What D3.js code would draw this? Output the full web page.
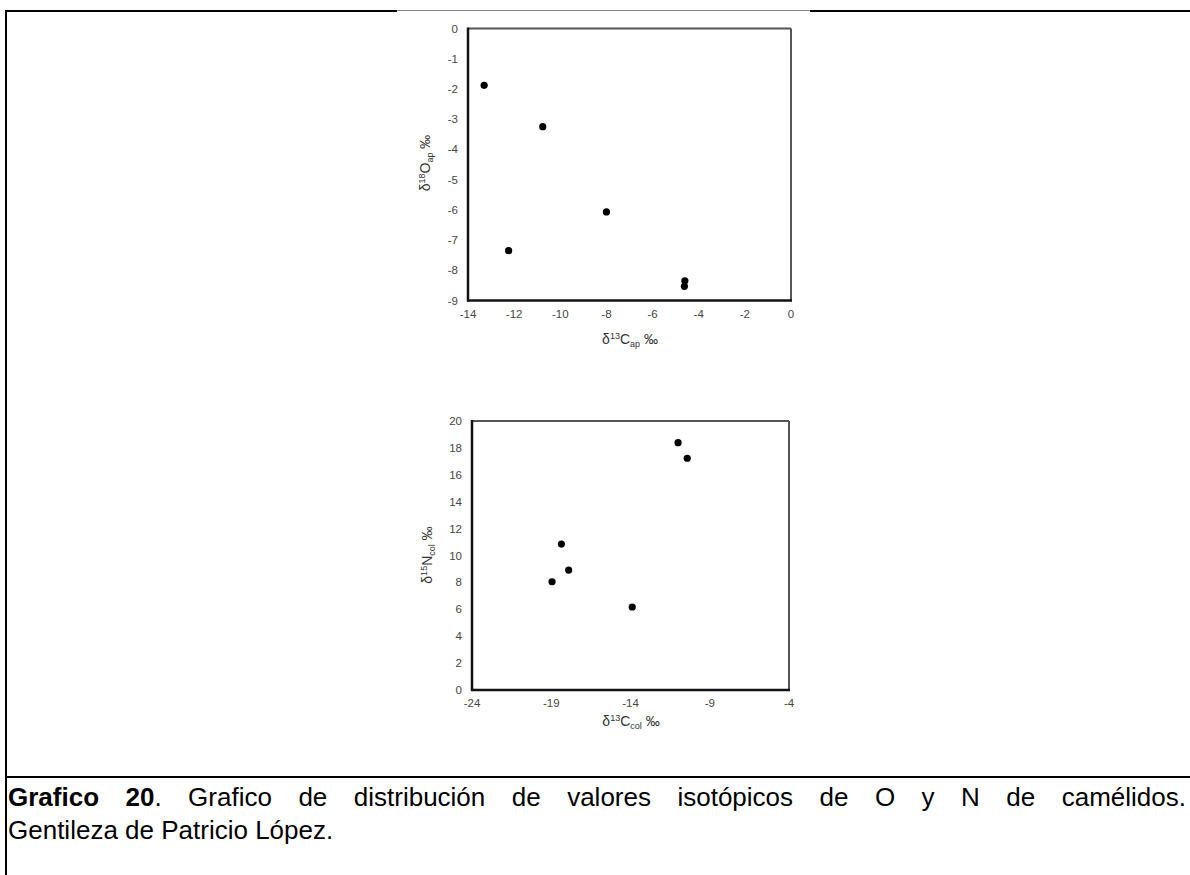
<!DOCTYPE html>
<html>
<head>
<meta charset="utf-8">
<script src="https://cdn.jsdelivr.net/npm/d3@7"></script>
<style>
  body { margin: 0; background: #fff; }
  #wrap { position: relative; width: 1190px; height: 875px; overflow: hidden; }
  .cap {
    position: absolute; left: 8px; width: 1178px;
    font-family: "Liberation Sans", Arial, sans-serif; font-size: 26px;
    line-height: 34px; color: #000; white-space: nowrap;
  }
  .cap.first { text-align: justify; text-align-last: justify; white-space: normal; }
</style>
</head>
<body>
<div id="wrap"></div>
<script>
// top chart: δ13C apatite vs δ18O apatite
const apC = [-13.3, -10.76, -8.0, -12.24, -4.6, -4.62];
const apO = [-1.88, -3.25, -6.07, -7.35, -8.35, -8.53];
const apXTicks = [-14, -12, -10, -8, -6, -4, -2, 0];
const apYTicks = [0, -1, -2, -3, -4, -5, -6, -7, -8, -9];

// bottom chart: δ13C collagen vs δ15N collagen
const colC = [-11.0, -10.42, -18.36, -17.9, -18.95, -13.89];
const colN = [18.39, 17.23, 10.85, 8.92, 8.05, 6.17];
const colXTicks = [-24, -19, -14, -9, -4];
const colYTicks = [0, 2, 4, 6, 8, 10, 12, 14, 16, 18, 20];

const W = 1190, H = 875;
const wrap = d3.select("#wrap");
const svg = wrap.append("svg").attr("width", W).attr("height", H)
  .style("position", "absolute").style("left", 0).style("top", 0);

// table borders
svg.append("line").attr("x1", 5).attr("x2", 397).attr("y1", 11).attr("y2", 11)
  .attr("stroke", "#000").attr("stroke-width", 2);
svg.append("line").attr("x1", 397).attr("x2", 810).attr("y1", 10.5).attr("y2", 10.5)
  .attr("stroke", "#888").attr("stroke-width", 1);
svg.append("line").attr("x1", 810).attr("x2", W).attr("y1", 11).attr("y2", 11)
  .attr("stroke", "#000").attr("stroke-width", 2);
svg.append("line").attr("x1", 6).attr("x2", 6).attr("y1", 10).attr("y2", H)
  .attr("stroke", "#000").attr("stroke-width", 2);
svg.append("line").attr("x1", 5).attr("x2", W).attr("y1", 777).attr("y2", 777)
  .attr("stroke", "#000").attr("stroke-width", 2);

const font = "'Liberation Sans', Arial, sans-serif";

function scatter(opt) {
  const x = d3.scaleLinear().domain(opt.xDomain).range([opt.left, opt.right]);
  const y = d3.scaleLinear().domain(opt.yDomain).range([opt.bottom, opt.top]);
  const g = svg.append("g");

  // plot frame: top/right dark gray, left/bottom black
  g.append("line").attr("x1", opt.left).attr("x2", opt.right).attr("y1", opt.top).attr("y2", opt.top)
    .attr("stroke", "#555").attr("stroke-width", 2);
  g.append("line").attr("x1", opt.right).attr("x2", opt.right).attr("y1", opt.top).attr("y2", opt.bottom)
    .attr("stroke", "#555").attr("stroke-width", 2);
  g.append("line").attr("x1", opt.left).attr("x2", opt.left).attr("y1", opt.top - 1).attr("y2", opt.bottom + 1)
    .attr("stroke", "#111").attr("stroke-width", 2.5);
  g.append("line").attr("x1", opt.left - 1).attr("x2", opt.right + 1).attr("y1", opt.bottom).attr("y2", opt.bottom)
    .attr("stroke", "#111").attr("stroke-width", 2.5);

  // tick labels
  g.selectAll(".xt").data(opt.xTicks).join("text")
    .attr("x", d => x(d)).attr("y", opt.bottom + 17)
    .attr("text-anchor", "middle").attr("font-family", font).attr("font-size", 11.5)
    .attr("fill", "#444").text(d => d);
  g.selectAll(".yt").data(opt.yTicks).join("text")
    .attr("x", opt.left - 10).attr("y", d => y(d) + 4)
    .attr("text-anchor", "end").attr("font-family", font).attr("font-size", 11.5)
    .attr("fill", "#444").text(d => d);

  // points
  g.selectAll("circle").data(opt.xs.map((v, i) => [v, opt.ys[i]])).join("circle")
    .attr("cx", d => x(d[0])).attr("cy", d => y(d[1])).attr("r", 3.6).attr("fill", "#000");

  // axis titles
  const xt = g.append("text").attr("x", opt.xTitleX).attr("y", opt.xTitleY)
    .attr("text-anchor", "middle").attr("font-family", font).attr("font-size", 14).attr("fill", "#333");
  xt.append("tspan").text("δ");
  xt.append("tspan").attr("font-size", 9).attr("dy", -5).text(opt.xIso);
  xt.append("tspan").attr("dy", 5).text(opt.xEl);
  xt.append("tspan").attr("font-size", 9).attr("dy", 3).text(opt.xSub);
  xt.append("tspan").attr("dy", -3).text(" ‰");

  const yt = g.append("text")
    .attr("transform", `translate(${opt.yTitleX},${opt.yTitleY}) rotate(-90)`)
    .attr("text-anchor", "middle").attr("font-family", font).attr("font-size", 14).attr("fill", "#333");
  yt.append("tspan").text("δ");
  yt.append("tspan").attr("font-size", 9).attr("dy", -5).text(opt.yIso);
  yt.append("tspan").attr("dy", 5).text(opt.yEl);
  yt.append("tspan").attr("font-size", 9).attr("dy", 3).text(opt.ySub);
  yt.append("tspan").attr("dy", -3).text(" ‰");
}

scatter({
  xs: apC, ys: apO, xDomain: [-14, 0], yDomain: [-9, 0],
  xTicks: apXTicks, yTicks: apYTicks,
  left: 468, right: 791, top: 28.5, bottom: 300.5,
  xTitleX: 630, xTitleY: 344, xIso: "13", xEl: "C", xSub: "ap",
  yTitleX: 430, yTitleY: 163, yIso: "18", yEl: "O", ySub: "ap"
});

scatter({
  xs: colC, ys: colN, xDomain: [-24, -4], yDomain: [0, 20],
  xTicks: colXTicks, yTicks: colYTicks,
  left: 472, right: 789, top: 421, bottom: 690,
  xTitleX: 631, xTitleY: 726, xIso: "13", xEl: "C", xSub: "col",
  yTitleX: 432, yTitleY: 555, yIso: "15", yEl: "N", ySub: "col"
});

// caption: first line justified across the cell, second line left
const cap1 = wrap.append("div").attr("class", "cap first").style("top", "780px");
cap1.append("b").text("Grafico 20");
cap1.append("span").text(". Grafico de distribución de valores isotópicos de O y N de camélidos.");
wrap.append("div").attr("class", "cap").style("top", "813px")
  .text("Gentileza de Patricio López.");
</script>
</body>
</html>
